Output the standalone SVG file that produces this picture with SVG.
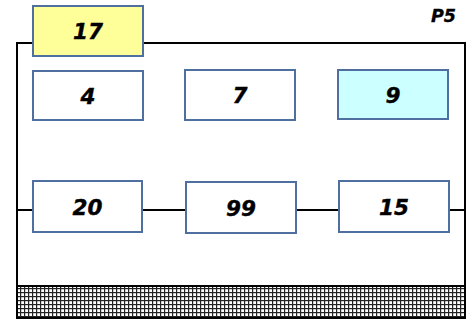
<svg xmlns="http://www.w3.org/2000/svg" width="476" height="320" viewBox="0 0 476 320">
<style>
.box{stroke:#4F6FA0;stroke-width:2;fill:#FFFFFF}
.lbl{font-family:"DejaVu Sans",Verdana,sans-serif;font-weight:bold;font-style:italic;font-size:21.5px;fill:#000;stroke:#000;stroke-width:0.4;text-anchor:middle}
.con{stroke:#000;stroke-width:2;fill:none}
</style>
<defs>
<pattern id="hatch" x="0" y="0" width="4" height="4" patternUnits="userSpaceOnUse">
<rect width="4" height="4" fill="#FFFFFF"/>
<rect x="0" y="0" width="1.2" height="4" fill="#222"/>
<rect x="0" y="0" width="4" height="1.2" fill="#222"/>
</pattern>
</defs>
<rect width="476" height="320" fill="#FFFFFF"/>
<g id="frame">
<rect x="17" y="43" width="448" height="275" fill="none" stroke="#000" stroke-width="2"/>
<rect x="18" y="287" width="446" height="30" fill="url(#hatch)"/>
<line x1="17" y1="286" x2="465" y2="286" stroke="#000" stroke-width="2"/>
</g>
<text id="title" x="456" y="22" style="font-family:'DejaVu Sans',Verdana,sans-serif;font-weight:bold;font-style:italic;font-size:17.5px;stroke:#000;stroke-width:0.3;text-anchor:end">P5</text>
<g id="connectors">
<line class="con" x1="17" y1="210" x2="33" y2="210"/>
<line class="con" x1="142" y1="210" x2="186" y2="210"/>
<line class="con" x1="296" y1="210" x2="339" y2="210"/>
<line class="con" x1="449" y1="210" x2="465" y2="210"/>
</g>
<g id="n17"><rect class="box" x="33" y="6" width="110" height="50" style="fill:#FFFF99"/><text class="lbl" x="88" y="39">17</text></g>
<g id="n4"><rect class="box" x="33" y="71" width="110" height="49"/><text class="lbl" x="88" y="104">4</text></g>
<g id="n7"><rect class="box" x="185" y="70" width="110" height="50"/><text class="lbl" x="240" y="103">7</text></g>
<g id="n9"><rect class="box" x="338" y="70" width="110" height="49" style="fill:#CCFFFF"/><text class="lbl" x="393" y="103">9</text></g>
<g id="n20"><rect class="box" x="33" y="181" width="109" height="51"/><text class="lbl" x="87.5" y="215">20</text></g>
<g id="n99"><rect class="box" x="186" y="182" width="110" height="51"/><text class="lbl" x="241" y="216">99</text></g>
<g id="n15"><rect class="box" x="339" y="181" width="110" height="51"/><text class="lbl" x="394" y="215">15</text></g>
</svg>
